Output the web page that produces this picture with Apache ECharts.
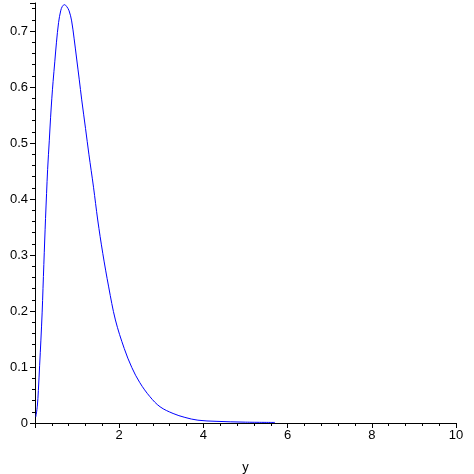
<!DOCTYPE html>
<html>
<head>
<meta charset="utf-8">
<script src="https://cdn.jsdelivr.net/npm/echarts@6/dist/echarts.min.js"></script>
<style>
  html, body { margin: 0; padding: 0; background: #fff; }
  #chart { width: 474px; height: 474px; }
</style>
</head>
<body>
<div id="chart"></div>
<script>
// points
const xs = [0.02, 0.055, 0.08, 0.11, 0.14, 0.17, 0.19, 0.21, 0.23, 0.25, 0.275, 0.30, 0.34, 0.37, 0.40, 0.43, 0.47, 0.51, 0.56, 0.61, 0.65, 0.70,
            0.75, 0.81, 0.87, 0.93, 0.99, 1.05, 1.11, 1.20, 1.28, 1.39, 1.49, 1.61, 1.75, 1.91, 2.12, 2.30, 2.49, 2.73, 2.97, 3.28, 3.56, 3.87, 4.3, 5.0, 5.7];
const ys = [0.011, 0.030, 0.058, 0.103, 0.148, 0.198, 0.240, 0.283, 0.325, 0.365, 0.410, 0.453, 0.505, 0.545, 0.580, 0.610, 0.645, 0.680, 0.715, 0.736, 0.744, 0.747,
            0.744, 0.736, 0.718, 0.686, 0.650, 0.614, 0.577, 0.526, 0.480, 0.421, 0.3625, 0.303, 0.243, 0.184, 0.133, 0.099, 0.072, 0.047, 0.029, 0.017, 0.010, 0.005, 0.003, 0.0015, 0.001];

const xTicks = [2, 4, 6, 8, 10];
const yTicks = [0, 0.1, 0.2, 0.3, 0.4, 0.5, 0.6, 0.7];

const chart = echarts.init(document.getElementById('chart'));

const axisBase = {
  axisLine: { show: true, onZero: false, lineStyle: { color: '#000', width: 1 } },
  axisTick: { show: true, inside: false, length: 5, lineStyle: { color: '#000' } },
  minorTick: { show: true, splitNumber: 5, length: 3, lineStyle: { color: '#000' } },
  splitLine: { show: false },
  axisLabel: { color: '#000', fontFamily: 'Liberation Sans, Arial', fontSize: 13 }
};

chart.setOption({
  animation: false,
  backgroundColor: '#fff',
  grid: { left: 35, right: 18, top: 3, bottom: 51, containLabel: false, outerBoundsMode: 'none' },
  xAxis: {
    ...axisBase,
    type: 'value',
    min: 0,
    max: 10,
    interval: 2,
    name: 'y',
    nameLocation: 'middle',
    nameGap: 38,
    nameTextStyle: { color: '#000', fontFamily: 'Liberation Sans, Arial', fontSize: 13 },
    axisLabel: {
      ...axisBase.axisLabel,
      margin: 6,
      formatter: v => xTicks.includes(v) ? String(v) : ''
    }
  },
  yAxis: {
    ...axisBase,
    type: 'value',
    min: 0,
    max: 0.75,
    interval: 0.1,
    axisLabel: {
      ...axisBase.axisLabel,
      margin: 7,
      showMaxLabel: false,
      formatter: v => {
        const t = yTicks.find(k => Math.abs(k - v) < 1e-9);
        return t === undefined ? '' : String(t);
      }
    }
  },
  series: [{
    type: 'line',
    data: xs.map((x, i) => [x, ys[i]]),
    showSymbol: false,
    smooth: 0.35,
    lineStyle: { color: '#0000ff', width: 1 }
  }]
});
</script>
</body>
</html>
